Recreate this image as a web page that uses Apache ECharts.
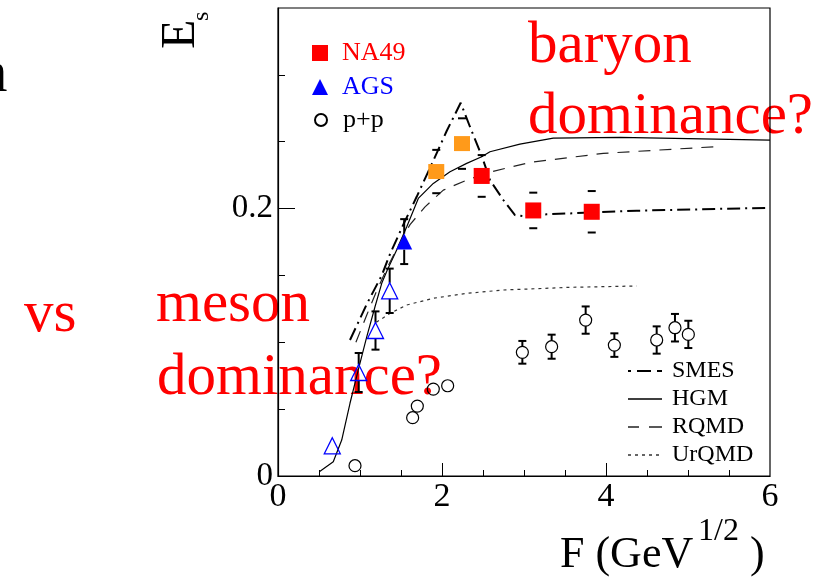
<!DOCTYPE html>
<html>
<head>
<meta charset="utf-8">
<script src="https://cdn.jsdelivr.net/npm/echarts@6/dist/echarts.min.js"></script>
<style>
  html, body { margin: 0; padding: 0; background: #fff; }
  #chart { width: 829px; height: 583px; }
</style>
</head>
<body>
<div id="chart"></div>
<script>
// ---- measured points: F (GeV^1/2), E_s and symmetric error ----
// NA49 central Pb+Pb
const na49F   = [2.484, 3.113, 3.826];
const na49E   = [0.2244, 0.1986, 0.1976];
const na49Err = [0.0156, 0.0133, 0.0155];
// NA49 lower-energy points (orange)
const na49bF   = [1.930, 2.244];
const na49bE   = [0.2277, 0.2486];
const na49bErr = [0.0162, 0.0189];
// AGS (filled)
const agsF   = [1.539];
const agsE   = [0.1753];
const agsErr = [0.0168];
// AGS (open)
const agsOpenF   = [0.662, 0.984, 1.189, 1.362];
const agsOpenE   = [0.0226, 0.0774, 0.1088, 0.1385];
const agsOpenErr = [0, 0.0146, 0.0143, 0.0166];
// p+p
const ppF   = [0.939, 1.642, 1.699, 1.894, 2.069, 2.980, 3.337, 3.752, 4.102, 4.618, 4.841, 5.004];
const ppE   = [0.0077, 0.0436, 0.0523, 0.0650, 0.0675, 0.0925, 0.0967, 0.1166, 0.0979, 0.1017, 0.1109, 0.1059];
const ppErr = [0, 0, 0, 0, 0, 0.0085, 0.0090, 0.0102, 0.0088, 0.0102, 0.0103, 0.0102];

// ---- model curves ----
const smesF = [0.878, 1.082, 1.265, 1.366, 1.528, 1.691, 1.894, 2.057, 2.228, 2.341, 2.484, 2.585, 2.748, 2.890, 2.990, 3.277, 4.374, 6.000];
const smesE = [0.1017, 0.1285, 0.1500, 0.1660, 0.1880, 0.2088, 0.2358, 0.2580, 0.2791, 0.2612, 0.2395, 0.2213, 0.2064, 0.1951, 0.1944, 0.1957, 0.1984, 0.2006];
const hgmF = [0.504, 0.674, 0.777, 0.878, 0.979, 1.082, 1.183, 1.265, 1.333, 1.447, 1.570, 1.711, 1.894, 2.098, 2.301, 2.484, 2.585, 2.950, 3.357, 4.170, 6.000];
const hgmE = [0.0032, 0.0107, 0.0269, 0.0544, 0.0793, 0.1041, 0.1266, 0.1441, 0.1540, 0.1690, 0.1864, 0.2076, 0.2188, 0.2275, 0.2338, 0.2387, 0.2425, 0.2482, 0.2527, 0.2532, 0.2512];
const rqmdF = [0.950, 1.080, 1.200, 1.350, 1.500, 1.610, 1.793, 2.016, 2.301, 2.600, 3.073, 3.967, 5.309];
const rqmdE = [0.1000, 0.1200, 0.1380, 0.1580, 0.1760, 0.1880, 0.2013, 0.2138, 0.2213, 0.2275, 0.2345, 0.2413, 0.2462];
const urqmdF = [1.200, 1.366, 1.570, 1.894, 2.301, 2.748, 3.561, 4.374];
const urqmdE = [0.1150, 0.1216, 0.1279, 0.1329, 0.1366, 0.1391, 0.1411, 0.1421];

// ---- axis ticks and labels ----
const xMinorTicks = [0.5, 1, 1.5, 2.5, 3, 3.5, 4.5, 5, 5.5];
const xMajorTicks = [2, 4];
const xLabels = [0, 2, 4, 6];
const yMinorTicks = [0.05, 0.1, 0.15, 0.25, 0.3];
const yMajorTicks = [0, 0.2];
const yLabels = [0, 0.2];

const SERIF = '"Liberation Serif", "Times New Roman", serif';
const pairs = (xs, ys) => xs.map((x, i) => [x, ys[i]]);
const triples = (xs, ys, es) => xs.map((x, i) => [x, ys[i], es[i]]);

// legend swatches for the model curves (34 x 2 strips)
const ICON_SMES  = 'path://M0,0h3v2h-3z M9,0h14v2h-14z M29,0h5v2h-5z';
const ICON_HGM   = 'path://M0,0.3h34v1.4h-34z M0,0h0.01v2h-0.01z';
const ICON_RQMD  = 'path://M0,0.3h11v1.4h-11z M21,0.3h13v1.4h-13z M0,0h0.01v2h-0.01z';
const ICON_URQMD = 'path://M0,0.3h3v1.4h-3z M7,0.3h3v1.4h-3z M14,0.3h3v1.4h-3z M21,0.3h3v1.4h-3z M28,0.3h3v1.4h-3z M0,0h0.01v2h-0.01z M33.99,0h0.01v2h-0.01z';

// error bars: caps, optionally with a stem reaching the marker edge
function errorBars(name, xs, ys, es, halfMarker, withStem) {
  return {
    name: name,
    type: 'custom',
    z: 3,
    silent: true,
    data: triples(xs, ys, es),
    renderItem: function (params, api) {
      const x = api.value(0), y = api.value(1), e = api.value(2);
      if (!e) return { type: 'group', children: [] };
      const c = api.coord([x, y]);
      const hi = api.coord([x, y + e]);
      const lo = api.coord([x, y - e]);
      const st = { stroke: '#000', lineWidth: 2 };
      const ch = [
        { type: 'line', shape: { x1: c[0] - 4, y1: hi[1], x2: c[0] + 4, y2: hi[1] }, style: st },
        { type: 'line', shape: { x1: c[0] - 4, y1: lo[1], x2: c[0] + 4, y2: lo[1] }, style: st }
      ];
      if (withStem) {
        if (c[1] - halfMarker > hi[1]) ch.push({ type: 'line', shape: { x1: c[0], y1: hi[1], x2: c[0], y2: c[1] - halfMarker }, style: st });
        if (c[1] + halfMarker < lo[1]) ch.push({ type: 'line', shape: { x1: c[0], y1: c[1] + halfMarker, x2: c[0], y2: lo[1] }, style: st });
      }
      return { type: 'group', children: ch };
    }
  };
}

function modelLine(name, xs, ys, width, dash, color) {
  return {
    name: name,
    type: 'line',
    data: pairs(xs, ys),
    symbol: 'none',
    smooth: false,
    z: 2,
    itemStyle: { color: '#000' },
    lineStyle: { color: color, width: width, type: dash }
  };
}

function txt(text, x, y, size, color, align) {
  return {
    type: 'text', x: x, y: y, z: -1,
    style: {
      text: text, font: size + 'px ' + SERIF, fill: color,
      align: align || 'left', textAlign: align || 'left',
      verticalAlign: 'middle', textVerticalAlign: 'middle'
    }
  };
}

const chart = echarts.init(document.getElementById('chart'), null, { renderer: 'canvas' });

const axisLineStyle = { color: '#000', width: 1.2 };
const solid = { opacity: 1 };

chart.setOption({
  animation: false,
  backgroundColor: '#fff',
  grid: { left: 278, top: 8, width: 492, height: 468, show: true, borderColor: '#000', borderWidth: 1.2, backgroundColor: 'transparent' },
  xAxis: [
    {
      type: 'value', min: 0, max: 6, position: 'bottom',
      axisLine: { show: true, lineStyle: axisLineStyle },
      axisTick: { show: true, inside: true, length: 6, customValues: xMinorTicks, lineStyle: { color: '#000', width: 1 } },
      axisLabel: { show: false },
      splitLine: { show: false }
    },
    {
      type: 'value', min: 0, max: 6, position: 'bottom',
      axisLine: { show: false },
      axisTick: { show: true, inside: true, length: 13, customValues: xMajorTicks, lineStyle: { color: '#000', width: 1 } },
      axisLabel: { show: true, customValues: xLabels, margin: 4, fontSize: 34, fontFamily: SERIF, color: '#000' },
      splitLine: { show: false }
    }
  ],
  yAxis: [
    {
      type: 'value', min: 0, max: 0.35, position: 'left',
      axisLine: { show: true, lineStyle: axisLineStyle },
      axisTick: { show: true, inside: true, length: 7, customValues: yMinorTicks, lineStyle: { color: '#000', width: 1 } },
      axisLabel: { show: false },
      splitLine: { show: false }
    },
    {
      type: 'value', min: 0, max: 0.35, position: 'left',
      axisLine: { show: false },
      axisTick: { show: true, inside: true, length: 17, customValues: yMajorTicks, lineStyle: { color: '#000', width: 1 } },
      axisLabel: { show: true, customValues: yLabels, margin: 5, fontSize: 33, fontFamily: SERIF, color: '#000',
                   formatter: v => (v === 0 ? '0' : String(v)) },
      splitLine: { show: false }
    }
  ],
  legend: [
    {
      orient: 'vertical', left: 312, top: 40, padding: 0, itemGap: 8,
      itemWidth: 16, itemHeight: 16, selectedMode: false,
      textStyle: { fontFamily: SERIF, fontSize: 26, lineHeight: 26, padding: [0, 0, 0, 9] },
      data: [
        { name: 'NA49', icon: 'rect', itemStyle: { color: '#ff0000', opacity: 1 }, textStyle: { color: '#ff0000' } },
        { name: 'AGS', icon: 'triangle', itemStyle: { color: '#0000ff', opacity: 1 }, textStyle: { color: '#0000ff' } }
      ]
    },
    {
      orient: 'vertical', left: 314, top: 107, padding: 0,
      itemWidth: 12, itemHeight: 12, selectedMode: false,
      textStyle: { fontFamily: SERIF, fontSize: 26, lineHeight: 26, color: '#000', padding: [0, 0, 0, 11] },
      data: [{ name: 'p+p', icon: 'circle' }]
    },
    {
      orient: 'vertical', left: 628, top: 359, padding: 0, itemGap: 4,
      itemWidth: 34, itemHeight: 2, selectedMode: false,
      textStyle: { fontFamily: SERIF, fontSize: 24, lineHeight: 24, color: '#000', padding: [0, 0, 0, 5] },
      data: [
        { name: 'SMES', icon: ICON_SMES, itemStyle: { color: '#000', borderWidth: 0 } },
        { name: 'HGM', icon: ICON_HGM, itemStyle: { color: '#000', borderWidth: 0 } },
        { name: 'RQMD', icon: ICON_RQMD, itemStyle: { color: '#222', borderWidth: 0 } },
        { name: 'UrQMD', icon: ICON_URQMD, itemStyle: { color: '#333', borderWidth: 0 } }
      ]
    }
  ],
  graphic: {
    elements: [
      txt('baryon', 528, 46.8, 59, '#ff0000'),
      txt('dominance?', 528, 117.4, 59, '#ff0000'),
      txt('meson', 156, 305.1, 59, '#ff0000'),
      txt('dominance?', 157, 378.4, 59, '#ff0000'),
      txt('vs', 24, 315, 59, '#ff0000'),
      txt('n', 7.5, 75, 59, '#000', 'right'),
      // x-axis title
      txt('F (GeV', 560, 555, 44, '#000'),
      txt('1/2', 698, 532, 32, '#000'),
      txt(')', 750, 555, 44, '#000'),
      // y-axis title, rotated
      {
        type: 'text', x: 181, y: 49, rotation: Math.PI / 2,
        style: { text: 'E', font: '48px ' + SERIF, fill: '#000', align: 'left', textAlign: 'left', verticalAlign: 'middle', textVerticalAlign: 'middle' }
      },
      {
        type: 'text', x: 202, y: 21, rotation: Math.PI / 2,
        style: { text: 's', font: '24px ' + SERIF, fill: '#000', align: 'left', textAlign: 'left', verticalAlign: 'middle', textVerticalAlign: 'middle' }
      }
    ]
  },
  series: [
    modelLine('SMES', smesF, smesE, 2, [13, 5, 2, 5], '#000'),
    modelLine('HGM', hgmF, hgmE, 1.2, 'solid', '#000'),
    modelLine('RQMD', rqmdF, rqmdE, 1.2, [12, 9], '#222'),
    modelLine('UrQMD', urqmdF, urqmdE, 1.2, [3, 4], '#333'),

    errorBars('NA49 err', na49F, na49E, na49Err, 8, false),
    errorBars('NA49 low-energy err', na49bF, na49bE, na49bErr, 8, false),
    errorBars('AGS err', agsF, agsE, agsErr, 8, true),
    errorBars('AGS open err', agsOpenF, agsOpenE, agsOpenErr, 8, true),
    errorBars('p+p err', ppF, ppE, ppErr, 6, true),

    {
      name: 'NA49', type: 'scatter', z: 4, data: pairs(na49F, na49E),
      symbol: 'rect', symbolSize: 16, itemStyle: { color: '#ff0000', opacity: 1 }
    },
    {
      name: 'NA49 low energy', type: 'scatter', z: 4, data: pairs(na49bF, na49bE),
      symbol: 'rect', symbolSize: [16, 15], itemStyle: { color: '#ff9a1a', opacity: 1 }
    },
    {
      name: 'AGS', type: 'scatter', z: 4, data: pairs(agsF, agsE),
      symbol: 'triangle', symbolSize: 16, itemStyle: { color: '#0000ff', opacity: 1 }
    },
    {
      name: 'AGS open', type: 'scatter', z: 4, data: pairs(agsOpenF, agsOpenE),
      symbol: 'triangle', symbolSize: 16,
      itemStyle: { color: 'rgba(0,0,0,0)', borderColor: '#0000ff', borderWidth: 1.3, opacity: 1 }
    },
    {
      name: 'p+p', type: 'scatter', z: 4, data: pairs(ppF, ppE),
      symbol: 'circle', symbolSize: 12,
      itemStyle: { color: 'rgba(255,255,255,0)', borderColor: '#000', borderWidth: 1.2, opacity: 1 }
    }
  ]
});
</script>
</body>
</html>
